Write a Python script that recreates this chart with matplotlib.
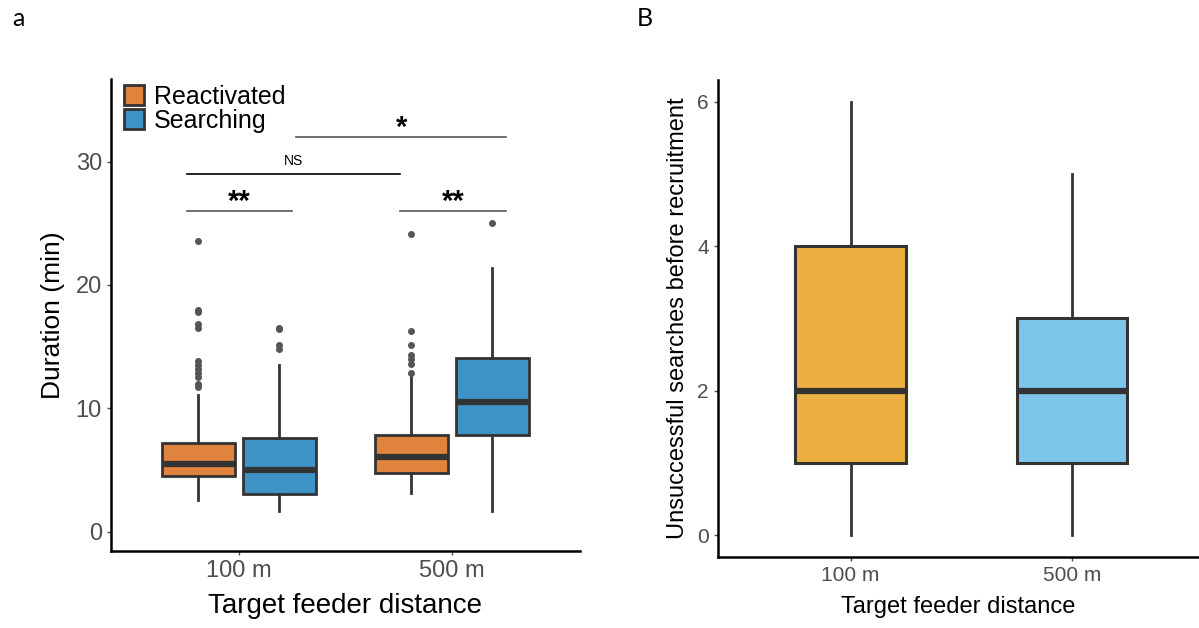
import matplotlib
matplotlib.use('Agg')
import matplotlib.pyplot as plt
from matplotlib.patches import Patch

plt.rcParams['font.family'] = ['Liberation Sans', 'DejaVu Sans']

# panel a data
distances = ['100 m', '500 m']
groups = ['Reactivated', 'Searching']
group_colors = ['#E0843D', '#3E93C6']
# per distance, per group: whislo, q1, med, q3, whishi
a_whislo = [[2.6, 1.7], [3.1, 1.7]]
a_q1 = [[4.55, 3.05], [4.75, 7.8]]
a_med = [[5.5, 5.0], [6.05, 10.55]]
a_q3 = [[7.2, 7.6], [7.85, 14.1]]
a_whishi = [[11.1, 13.5], [12.7, 21.4]]
a_fliers = [[[23.6, 18.0, 17.8, 16.8, 16.5, 13.8, 13.5, 13.2, 12.9, 12.5, 12.0, 11.7],
             [16.5, 16.4, 15.1, 14.8]],
            [[24.1, 16.3, 15.1, 14.3, 14.0, 13.6, 12.9],
             [25.0]]]

# significance brackets: x start, x end, y, label
sig_x1 = [-0.245, 0.754, -0.245, 0.27]
sig_x2 = [0.25, 1.254, 0.754, 1.254]
sig_y = [26.0, 26.0, 29.0, 32.0]
sig_lab = ['**', '**', 'NS', '*']

# panel B data
b_whislo = [0, 0]
b_q1 = [1, 1]
b_med = [2, 2]
b_q3 = [4, 3]
b_whishi = [6, 5]
b_colors = ['#EBB040', '#7EC5EC']

edge = '#333333'
tick_col = '#4D4D4D'

fig = plt.figure(figsize=(11.99, 6.28), dpi=100)
axa = fig.add_axes([0.0926, 0.1226, 0.391, 0.7516])
axb = fig.add_axes([0.5986, 0.1135, 0.4014, 0.759])

# ---- panel a ----
for i in range(len(distances)):
    for j in range(len(groups)):
        st = [dict(med=a_med[i][j], q1=a_q1[i][j], q3=a_q3[i][j],
                   whislo=a_whislo[i][j], whishi=a_whishi[i][j],
                   fliers=a_fliers[i][j])]
        pos = i + (j - 0.5) * 0.38
        axa.bxp(st, positions=[pos], widths=0.34, patch_artist=True,
                showcaps=False,
                boxprops=dict(facecolor=group_colors[j], edgecolor=edge, linewidth=2),
                medianprops=dict(color=edge, linewidth=4.5, solid_capstyle='butt'),
                whiskerprops=dict(color=edge, linewidth=2),
                flierprops=dict(marker='o', markersize=4, markerfacecolor='#555555',
                                markeredgecolor='#555555'))

for x1, x2, y, lab in zip(sig_x1, sig_x2, sig_y, sig_lab):
    if lab == 'NS':
        axa.plot([x1, x2], [y, y], color='black', lw=1.2)
        axa.text((x1 + x2) / 2, y + 0.5, lab, ha='center', va='bottom', fontsize=10)
    else:
        axa.plot([x1, x2], [y, y], color='#555555', lw=1.2)
        axa.text((x1 + x2) / 2, y - 0.4, lab, ha='center', va='bottom',
                 fontsize=21, fontweight='bold')

axa.set_xlim(-0.6, 1.6)
axa.set_ylim(-1.57, 36.7)
axa.set_xticks(range(len(distances)))
axa.set_xticklabels(distances)
axa.set_yticks([0, 10, 20, 30])
axa.tick_params(labelsize=17, colors=tick_col, length=3, width=1)
axa.set_xlabel('Target feeder distance', fontsize=20, labelpad=8)
axa.set_ylabel('Duration (min)', fontsize=19, labelpad=8)
for s in ['top', 'right']:
    axa.spines[s].set_visible(False)
for s in ['left', 'bottom']:
    axa.spines[s].set_linewidth(1.8)

handles = [Patch(facecolor=c, edgecolor=edge, linewidth=2) for c in group_colors]
axa.legend(handles, groups, loc='upper left', bbox_to_anchor=(-0.01, 1.025),
           frameon=False, fontsize=18, handlelength=0.8, handleheight=0.8,
           handletextpad=0.4, labelspacing=0.0, borderpad=0.2)

# ---- panel B ----
for i in range(len(distances)):
    st = [dict(med=b_med[i], q1=b_q1[i], q3=b_q3[i],
               whislo=b_whislo[i], whishi=b_whishi[i], fliers=[])]
    axb.bxp(st, positions=[i], widths=0.5, patch_artist=True, showcaps=False,
            boxprops=dict(facecolor=b_colors[i], edgecolor=edge, linewidth=2.2),
            medianprops=dict(color=edge, linewidth=4.5, solid_capstyle='butt'),
            whiskerprops=dict(color=edge, linewidth=2))

axb.set_xlim(-0.6, 1.574)
axb.set_ylim(-0.3, 6.3)
axb.set_xticks(range(len(distances)))
axb.set_xticklabels(distances)
axb.set_yticks([0, 2, 4, 6])
axb.tick_params(labelsize=15, colors=tick_col, length=3, width=1)
axb.set_xlabel('Target feeder distance', fontsize=17, labelpad=8)
axb.set_ylabel('Unsuccessful searches before recruitment', fontsize=17, labelpad=6)
for s in ['top', 'right']:
    axb.spines[s].set_visible(False)
for s in ['left', 'bottom']:
    axb.spines[s].set_linewidth(1.8)

fig.text(0.010, 0.958, 'a', fontsize=18, family=['Lato', 'DejaVu Sans'])
fig.text(0.531, 0.958, 'B', fontsize=18, family=['Lato', 'DejaVu Sans'])

fig.savefig('out.png', dpi=100)
